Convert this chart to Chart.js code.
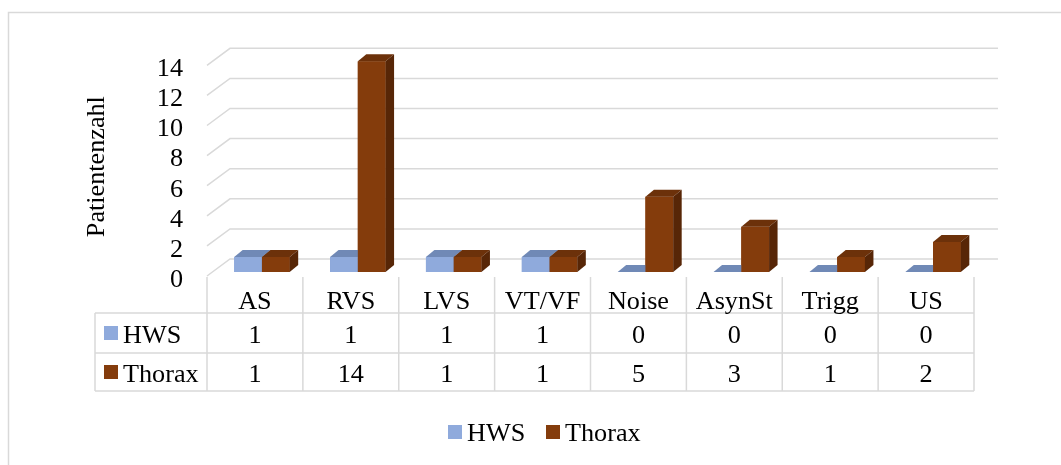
<!DOCTYPE html>
<html><head><meta charset="utf-8">
<script src="https://cdn.jsdelivr.net/npm/chart.js@4.4.1/dist/chart.umd.min.js"></script>
<style>html,body{margin:0;padding:0;background:#fff;} canvas{display:block;}</style>
</head><body>
<canvas id="c" width="1061" height="465"></canvas>
<script>
const categories = ['AS', 'RVS', 'LVS', 'VT/VF', 'Noise', 'AsynSt', 'Trigg', 'US'];
const seriesNames = ['HWS', 'Thorax'];
const hwsValues = [1, 1, 1, 1, 0, 0, 0, 0];
const thoraxValues = [1, 14, 1, 1, 5, 3, 1, 2];
const yAxisTitle = 'Patientenzahl';
const yMin = 0, yMax = 14, yStep = 2;

const FONT = '"Liberation Serif","Times New Roman",serif';
const FS = 26.2;
const GRID = '#d9d9d9';
const palette = {
  HWS: {front: '#8FAADC', top: '#7089B6', side: '#6E86B2'},
  Thorax: {front: '#843C0C', top: '#6C310A', side: '#572607'}
};
const DX = 8.5, DY = 7;

const borderPlugin = {
  id: 'outerBorder',
  beforeDraw(chart) {
    const ctx = chart.ctx;
    ctx.save();
    ctx.strokeStyle = GRID; ctx.lineWidth = 1.5;
    ctx.beginPath();
    ctx.moveTo(8.5, 465); ctx.lineTo(8.5, 12.5); ctx.lineTo(1061, 12.5);
    ctx.stroke();
    ctx.restore();
  }
};

const wallPlugin = {
  id: 'wall',
  beforeDatasetsDraw(chart) {
    const {ctx, chartArea: a, scales: {y}} = chart;
    ctx.save();
    ctx.strokeStyle = GRID; ctx.lineWidth = 1.5;
    y.ticks.forEach(t => {
      const yb = y.getPixelForValue(t.value) - 13;
      ctx.beginPath();
      ctx.moveTo(a.left - 7, yb + 17);
      ctx.lineTo(a.left + 16, yb);
      ctx.lineTo(a.right + 17, yb);
      ctx.stroke();
    });
    ctx.restore();
  }
};

function poly(ctx, pts, color) {
  ctx.fillStyle = color;
  ctx.beginPath();
  ctx.moveTo(pts[0][0], pts[0][1]);
  for (let k = 1; k < pts.length; k++) ctx.lineTo(pts[k][0], pts[k][1]);
  ctx.closePath();
  ctx.fill();
}

const barsPlugin = {
  id: 'bars3d',
  afterDatasetsDraw(chart) {
    const ctx = chart.ctx;
    ctx.save();
    for (let i = 0; i < categories.length; i++) {
      chart.data.datasets.forEach((ds, d) => {
        const el = chart.getDatasetMeta(d).data[i];
        const {x, y, base, width} = el.getProps(['x', 'y', 'base', 'width'], true);
        const l = x - width / 2, r = x + width / 2;
        const c = palette[ds.label];
        ctx.fillStyle = c.front;
        ctx.fillRect(l, y, width, base - y);
        poly(ctx, [[l, y], [l + DX, y - DY], [r + DX, y - DY], [r, y]], c.top);
        poly(ctx, [[r, y], [r + DX, y - DY], [r + DX, base - DY], [r, base]], c.side);
      });
    }
    ctx.restore();
  }
};

const tablePlugin = {
  id: 'dataTable',
  afterDraw(chart) {
    const {ctx, scales: {x}} = chart;
    const cw = x.getPixelForValue(1) - x.getPixelForValue(0);
    const colL = i => x.getPixelForValue(i) - cw / 2 - 7;
    const colC = i => x.getPixelForValue(i) - 7;
    const top = 277, hLine1 = 313, hLine2 = 353, bottom = 391, left = 95;
    const right = colL(categories.length);
    ctx.save();
    ctx.strokeStyle = GRID; ctx.lineWidth = 1.5;
    ctx.beginPath();
    for (let k = 0; k <= categories.length; k++) {
      const xx = colL(k);
      ctx.moveTo(xx, top); ctx.lineTo(xx, bottom);
    }
    [hLine1, hLine2, bottom].forEach(yy => { ctx.moveTo(left, yy); ctx.lineTo(right, yy); });
    ctx.moveTo(left, hLine1); ctx.lineTo(left, bottom);
    ctx.stroke();

    ctx.fillStyle = '#000';
    ctx.font = FS + 'px ' + FONT;
    ctx.textAlign = 'center';
    ctx.textBaseline = 'alphabetic';
    const rows = [hwsValues, thoraxValues];
    const rowBase = [342.5, 381.5];
    categories.forEach((cat, i) => {
      ctx.fillText(cat, colC(i), 309);
      rows.forEach((vals, r) => ctx.fillText(String(vals[i]), colC(i), rowBase[r]));
    });
    ctx.textAlign = 'left';
    seriesNames.forEach((name, r) => {
      ctx.fillStyle = palette[name].front;
      ctx.fillRect(104, rowBase[r] - 16.5, 14, 14);
      ctx.fillStyle = '#000';
      ctx.fillText(name, 123, rowBase[r]);
    });

    // bottom legend
    const lx = [448, 546];
    seriesNames.forEach((name, r) => {
      ctx.fillStyle = palette[name].front;
      ctx.fillRect(lx[r], 425, 14, 14);
      ctx.fillStyle = '#000';
      ctx.fillText(name, lx[r] + 19, 440.5);
    });
    ctx.restore();
  }
};

new Chart(document.getElementById('c'), {
  type: 'bar',
  data: {
    labels: categories,
    datasets: [
      {label: seriesNames[0], data: hwsValues, backgroundColor: palette.HWS.front, borderWidth: 0},
      {label: seriesNames[1], data: thoraxValues, backgroundColor: palette.Thorax.front, borderWidth: 0}
    ]
  },
  options: {
    responsive: false,
    devicePixelRatio: 1,
    animation: false,
    layout: {padding: {left: 0, top: 61.3, right: 80, bottom: 193}},
    datasets: {bar: {categoryPercentage: 0.579, barPercentage: 1}},
    plugins: {legend: {display: false}, tooltip: {enabled: false}, title: {display: false}},
    scales: {
      x: {display: false},
      y: {
        min: yMin, max: yMax,
        afterFit(scale) { scale.width = 214; },
        grid: {display: false, drawTicks: false},
        border: {display: false},
        ticks: {stepSize: yStep, autoSkip: false, color: '#000', padding: 31, labelOffset: 8,
                font: {family: FONT, size: FS}},
        title: {display: true, text: yAxisTitle, color: '#000',
                padding: {top: 81.3, bottom: 0}, font: {family: FONT, size: FS}}
      }
    }
  },
  plugins: [borderPlugin, wallPlugin, barsPlugin, tablePlugin]
});
</script>
</body></html>
